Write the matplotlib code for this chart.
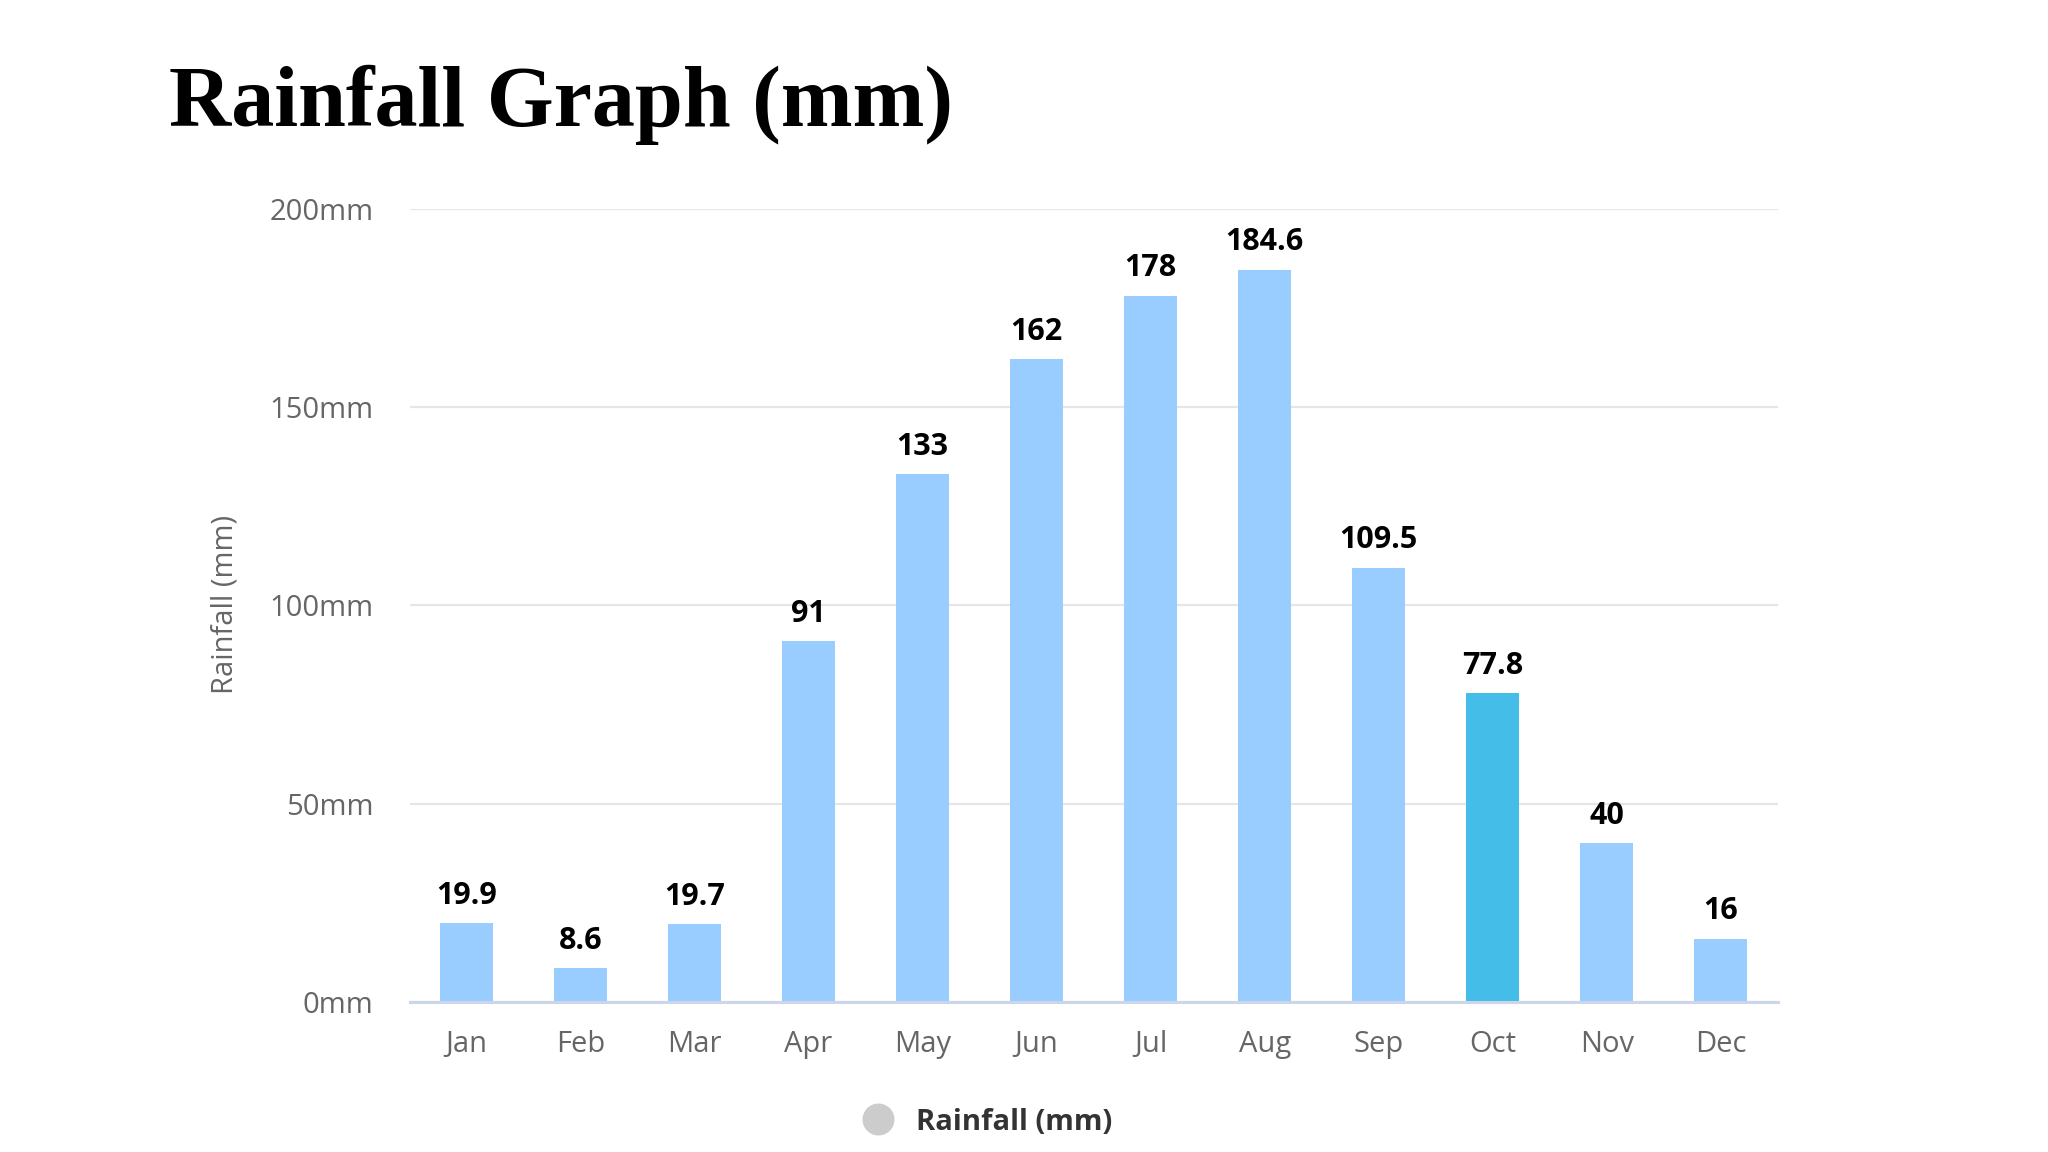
"""
Rainfall bar chart: monthly rainfall in mm, with October highlighted.

Output:
    out.png
"""

import matplotlib
matplotlib.use("Agg")
import matplotlib.pyplot as plt
from matplotlib.lines import Line2D

# Monthly values
MONTHS = ["Jan", "Feb", "Mar", "Apr", "May", "Jun",
          "Jul", "Aug", "Sep", "Oct", "Nov", "Dec"]
RAINFALL = [19.9, 8.6, 19.7, 91, 133, 162, 178, 184.6, 109.5, 77.8, 40, 16]
VALUE_LABELS = ["19.9", "8.6", "19.7", "91", "133", "162",
                "178", "184.6", "109.5", "77.8", "40", "16"]
Y_TICKS = [0, 50, 100, 150, 200]
HIGHLIGHT = "Oct"

BAR_COLOUR = "#99ccff"
HIGHLIGHT_COLOUR = "#44bde8"
TICK_COLOUR = "#666666"
SANS = ["Open Sans", "DejaVu Sans"]


def main() -> None:
    fig = plt.figure(figsize=(20.48, 11.52), dpi=100)
    ax = fig.add_axes([0.200, 0.130, 0.668, 0.689])

    colours = [HIGHLIGHT_COLOUR if m == HIGHLIGHT else BAR_COLOUR for m in MONTHS]
    x = range(len(MONTHS))
    bars = ax.bar(x, RAINFALL, width=0.47, color=colours, zorder=2)

    # Value labels above each bar
    for rect, label in zip(bars, VALUE_LABELS):
        ax.annotate(label, (rect.get_x() + rect.get_width() / 2, rect.get_height()),
                    xytext=(0, 9), textcoords="offset points",
                    ha="center", va="bottom", fontsize=22, fontweight="bold",
                    family=SANS, color="#000000")

    ax.set_xlim(-0.5, len(MONTHS) - 0.5)
    ax.set_ylim(0, 200)
    ax.set_yticks(Y_TICKS)
    ax.set_yticklabels([f"{v}mm" for v in Y_TICKS])
    ax.set_xticks(list(x))
    ax.set_xticklabels(MONTHS)

    ax.grid(axis="y", color="#e6e6e6", linewidth=1.6, zorder=0)
    for side in ["top", "right", "left"]:
        ax.spines[side].set_visible(False)
    ax.spines["bottom"].set_color("#ccd6eb")
    ax.spines["bottom"].set_linewidth(2.2)
    ax.spines["bottom"].set_zorder(3)

    ax.tick_params(axis="both", length=0, colors=TICK_COLOUR, labelsize=21)
    ax.tick_params(axis="y", pad=26)
    ax.tick_params(axis="x", pad=20)
    for lbl in ax.get_xticklabels() + ax.get_yticklabels():
        lbl.set_family(SANS)

    fig.text(0.1097, 0.475, "Rainfall (mm)", rotation=90, ha="center", va="center",
             fontsize=21, color=TICK_COLOUR, family=SANS)

    # Title in a bold serif face
    fig.text(0.0826, 0.891, "Rainfall Graph (mm)", ha="left", va="baseline",
             fontsize=62, fontweight="bold", family=["Liberation Serif", "DejaVu Serif"],
             color="#000000")

    # Legend: grey dot and bold series name
    legend_handle = Line2D([], [], marker="o", linestyle="none", markersize=22,
                           markerfacecolor="#cccccc", markeredgecolor="#cccccc")
    fig.legend(handles=[legend_handle], labels=["Rainfall (mm)"],
               loc="center", bbox_to_anchor=(0.479, 0.026), frameon=False,
               handletextpad=0.3, prop={"family": SANS, "size": 21, "weight": "bold"},
               labelcolor="#333333")

    fig.savefig("out.png", dpi=100)
    plt.close(fig)


if __name__ == "__main__":
    main()
